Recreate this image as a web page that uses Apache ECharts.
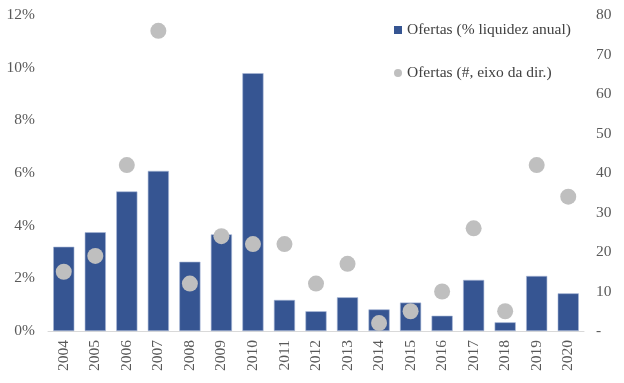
<!DOCTYPE html>
<html><head><meta charset="utf-8">
<script src="https://cdn.jsdelivr.net/npm/echarts@6/dist/echarts.min.js"></script>
<style>html,body{margin:0;padding:0;background:#fff}#c{width:624px;height:383px}</style>
</head><body><div id="c"></div>
<script>
const categories = ['2004','2005','2006','2007','2008','2009','2010','2011','2012','2013','2014','2015','2016','2017','2018','2019','2020'];
const pctLiquidez = [3.2,3.75,5.3,6.08,2.63,3.67,9.79,1.18,0.75,1.28,0.82,1.08,0.58,1.94,0.33,2.09,1.43];
const numOfertas = [15,19,42,76,12,24,22,22,12,17,2,5,10,26,5,42,34];
const seriesNames = ['Ofertas (% liquidez anual)','Ofertas (#, eixo da dir.)'];

const font = 'Liberation Serif';
const chart = echarts.init(document.getElementById('c'));
chart.setOption({
  animation:false,
  textStyle:{fontFamily:font},
  grid:{left:48,right:40,top:15,bottom:52},
  legend:{
    orient:'vertical', left:389, top:17, itemGap:27, itemWidth:8, itemHeight:8,
    textStyle:{fontFamily:font,fontSize:15.5,color:'#404040'},
    data:[{name:seriesNames[0],icon:'rect',itemStyle:{borderWidth:0}},{name:seriesNames[1],icon:'circle'}]
  },
  xAxis:{
    type:'category', data:categories,
    axisLine:{lineStyle:{color:'#D9D9D9'}}, axisTick:{show:false},
    axisLabel:{rotate:90,color:'#595959',fontFamily:font,fontSize:15.5,margin:9}
  },
  yAxis:[
    {type:'value',min:0,max:12,interval:2,splitLine:{show:false},
     axisLabel:{formatter:'{value}%',color:'#595959',fontFamily:font,fontSize:15.5,margin:13}},
    {type:'value',min:0,max:80,interval:10,splitLine:{show:false},
     axisLabel:{formatter:v=>v===0?'-':v,color:'#595959',fontFamily:font,fontSize:15.5,margin:12}}
  ],
  series:[
    {name:seriesNames[0],type:'bar',data:pctLiquidez,yAxisIndex:0,barCategoryGap:'33%',
     itemStyle:{color:'#365592',borderColor:'#A9B8D6',borderWidth:0.6}},
    {name:seriesNames[1],type:'scatter',data:numOfertas,yAxisIndex:1,symbolSize:16,
     itemStyle:{color:'#BFBFBF',opacity:1}}
  ]
});
</script></body></html>
